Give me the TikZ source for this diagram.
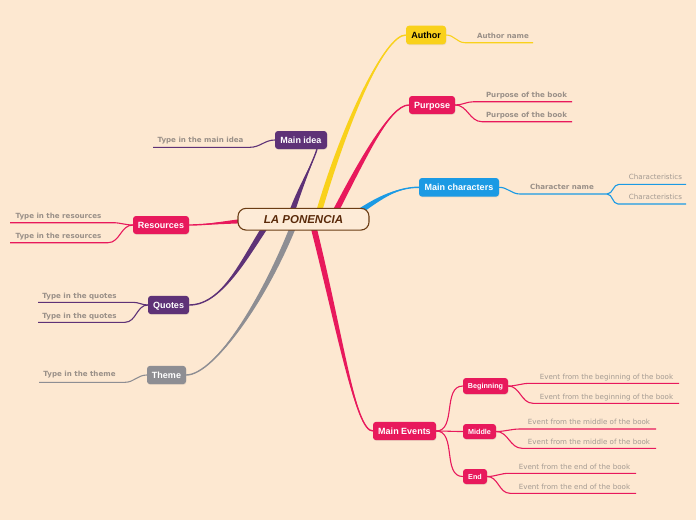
\documentclass[tikz,border=0pt]{standalone}
\usepackage{fontspec}
\setmainfont{Liberation Sans}
\newfontfamily\djv{DejaVu Sans}
\usetikzlibrary{calc,shadows}
\definecolor{bgc}{HTML}{FDE8D1}
\definecolor{crim}{HTML}{E8195C}
\definecolor{yellowc}{HTML}{F9D11B}
\definecolor{bluec}{HTML}{1B9AE4}
\definecolor{purp}{HTML}{5E3277}
\definecolor{grayc}{HTML}{8E8E93}
\definecolor{cbord}{HTML}{6B3C14}
\definecolor{cfill}{HTML}{FDEBD7}
\definecolor{ctext}{HTML}{5A2A0A}
\definecolor{subgray}{HTML}{9A9088}
\definecolor{evgray}{HTML}{A39A92}
\pgfdeclarelayer{back}
\pgfsetlayers{back,main}
\newcommand\mbranch[6]{%
  \fill[#1] ($(#2)+#3$) .. controls ($#4+#3$) and #5 .. (#6) .. controls #5 and ($#4-#3$) .. ($(#2)-#3$) -- cycle;
  \draw[#1, line width=1.4pt] (#2) .. controls #4 and #5 .. (#6);}
\newcommand\sublab[6]{%
  \node[#1] (#2) at #3 {#4};
  \coordinate (#2l) at #5; \coordinate (#2r) at #6;}
\begin{document}
\begin{tikzpicture}[x=1pt,y=-1pt,
  box/.style={rounded corners=3pt, inner sep=0pt, text=white,
    font=\bfseries\fontsize{9}{10}\selectfont, text height=6.5pt, text depth=0pt,
    drop shadow={opacity=0.15,shadow xshift=0.4pt,shadow yshift=-0.8pt}},
  small/.style={font=\bfseries\fontsize{7.2}{8}\selectfont, text height=5.2pt},
  sl/.style={inner sep=0pt, text=subgray, font=\djv\bfseries\fontsize{7.1}{8}\selectfont, text height=5.2pt, text depth=0pt},
  el/.style={inner sep=0pt, text=evgray, font=\djv\fontsize{7.1}{8}\selectfont, text height=5.2pt, text depth=0pt},
  con/.style={line width=1.1pt}]
\useasboundingbox (0,0) rectangle (696,520);

% central node
\node[draw=cbord, line width=1.1pt, fill=cfill, rounded corners=8pt, minimum width=131pt,
  minimum height=21.7pt, inner sep=0pt, font=\bfseries\itshape\fontsize{11.5}{12}\selectfont,
  text=ctext, text height=8.3pt, text depth=0pt] (lp) at (303.5,219.2) {LA PONENCIA};

% main topics
\node[box, fill=yellowc, text=black, minimum width=40pt, minimum height=18.6pt] (author) at (426,35) {Author};
\node[box, fill=crim, minimum width=46pt, minimum height=18pt] (purpose) at (432,105) {Purpose};
\node[box, fill=bluec, minimum width=80pt, minimum height=18.6pt] (mainchar) at (459,187.3) {Main characters};
\node[box, fill=purp, minimum width=52pt, minimum height=18pt] (mainidea) at (301,140) {Main idea};
\node[box, fill=crim, minimum width=56pt, minimum height=18pt] (resources) at (161,225) {Resources};
\node[box, fill=purp, minimum width=41pt, minimum height=18.3pt] (quotes) at (168.5,305) {Quotes};
\node[box, fill=grayc, minimum width=39pt, minimum height=18.3pt] (theme) at (166.5,375) {Theme};
\node[box, fill=crim, minimum width=63pt, minimum height=18.3pt] (mainevents) at (404.5,431) {Main Events};
\node[box, small, fill=crim, minimum width=45pt, minimum height=16pt] (beginning) at (485.5,386) {Beginning};
\node[box, small, fill=crim, minimum width=33pt, minimum height=15pt] (middle) at (479.5,431.5) {Middle};
\node[box, small, fill=crim, minimum width=24pt, minimum height=15pt] (endn) at (475,476.5) {End};

% branch start points (hidden behind the central node)
\coordinate (sAu) at (316,222);
\coordinate (sPu) at (330,222);
\coordinate (sMc) at (345,222);
\coordinate (sMi) at (288,225);
\coordinate (sRe) at (280,219);
\coordinate (sQu) at (274,214);
\coordinate (sTh) at (298,214);
\coordinate (sMe) at (310,213);
\coordinate (eMi) at ($(mainidea.south)+(16,0)$);

\begin{pgfonlayer}{back}
\fill[bgc] (0,0) rectangle (696,520);
\mbranch{yellowc}{sAu}{(3,0)}{(345,120)}{(385,35)}{author.west}
\mbranch{crim}{sPu}{(3,0.6)}{(362,160)}{(390,105)}{purpose.west}
\mbranch{bluec}{sMc}{(1.5,2.6)}{(375,200)}{(395,187.3)}{mainchar.west}
\mbranch{purp}{sMi}{(3,0.5)}{(296,195)}{(312,165)}{eMi}
\mbranch{crim}{sRe}{(0,3)}{(240,220)}{(210,225)}{resources.east}
\mbranch{purp}{sQu}{(2.6,1.5)}{(248,250)}{(225,305)}{quotes.east}
\mbranch{grayc}{sTh}{(3,0.6)}{(268,295)}{(215,375)}{theme.east}
\mbranch{crim}{sMe}{(3,0)}{(340,330)}{(355,431)}{mainevents.west}
\end{pgfonlayer}

% sub labels
\sublab{sl}{an}{(503,35.7)}{Author name}{(465,42.7)}{(533,42.7)}
\sublab{sl}{pa}{(526.5,95)}{Purpose of the book}{(474,101.7)}{(572,101.7)}
\sublab{sl}{pb}{(526.5,115)}{Purpose of the book}{(482,121.7)}{(572,121.7)}
\sublab{sl}{cn}{(562,187.3)}{Character name}{(520,194)}{(607,194)}
\sublab{el}{ca}{(655.5,177.3)}{Characteristics}{(619,184.3)}{(686,184.3)}
\sublab{el}{cb}{(655.5,197.3)}{Characteristics}{(618,204)}{(686,204)}
\sublab{sl}{mi}{(200.5,140.3)}{Type in the main idea}{(153,147.3)}{(250,147.3)}
\sublab{sl}{ra}{(58.5,215.7)}{Type in the resources}{(10,222.7)}{(113,222.7)}
\sublab{sl}{rb}{(58.5,235.7)}{Type in the resources}{(10,242.7)}{(108,242.7)}
\sublab{sl}{qa}{(79.5,295.7)}{Type in the quotes}{(38,302.3)}{(133,302.3)}
\sublab{sl}{qb}{(79.5,315.7)}{Type in the quotes}{(38,322.3)}{(125,322.3)}
\sublab{sl}{ta}{(79.5,374.3)}{Type in the theme}{(39,382.3)}{(125,382.3)}
\sublab{el}{ba}{(606.5,376.7)}{Event from the beginning of the book}{(530,383.3)}{(679,383.3)}
\sublab{el}{bb}{(606.5,396.7)}{Event from the beginning of the book}{(533,403.3)}{(679,403.3)}
\sublab{el}{ma}{(589,421.7)}{Event from the middle of the book}{(520,429)}{(656,429)}
\sublab{el}{mb}{(589,441.7)}{Event from the middle of the book}{(522,448.3)}{(656,448.3)}
\sublab{el}{ea}{(574.5,466.7)}{Event from the end of the book}{(509,473.3)}{(636,473.3)}
\sublab{el}{eb}{(574.5,486.7)}{Event from the end of the book}{(510,493.3)}{(636,493.3)}

% connectors + underlines
\draw[con, yellowc] (author.east) to[out=0,in=180] (anl) -- (anr);
\draw[con, crim] (purpose.east) to[out=0,in=180] (pal) -- (par);
\draw[con, crim] (purpose.east) to[out=0,in=180] (pbl) -- (pbr);
\draw[con, bluec] (mainchar.east) to[out=0,in=180] (cnl) -- (cnr);
\draw[con, bluec] (cnr) to[out=0,in=180] (cal) -- (car);
\draw[con, bluec] (cnr) to[out=0,in=180] (cbl) -- (cbr);
\draw[con, purp] (mainidea.west) to[out=180,in=0] (mir) -- (mil);
\draw[con, crim] (resources.west) to[out=180,in=0] (rar) -- (ral);
\draw[con, crim] (resources.west) to[out=180,in=0] (rbr) -- (rbl);
\draw[con, purp] (quotes.west) to[out=180,in=0] (qar) -- (qal);
\draw[con, purp] (quotes.west) to[out=180,in=0] (qbr) -- (qbl);
\draw[con, grayc] (theme.west) to[out=180,in=0] (tar) -- (tal);
\draw[con, crim] (mainevents.east) to[out=0,in=180] (beginning.west);
\draw[con, crim] (mainevents.east) to[out=0,in=180] (middle.west);
\draw[con, crim] (mainevents.east) to[out=0,in=180] (endn.west);
\draw[con, crim] (beginning.east) to[out=0,in=180] (bal) -- (bar);
\draw[con, crim] (beginning.east) to[out=0,in=180] (bbl) -- (bbr);
\draw[con, crim] (middle.east) to[out=0,in=180] (mal) -- (mar);
\draw[con, crim] (middle.east) to[out=0,in=180] (mbl) -- (mbr);
\draw[con, crim] (endn.east) to[out=0,in=180] (eal) -- (ear);
\draw[con, crim] (endn.east) to[out=0,in=180] (ebl) -- (ebr);
\end{tikzpicture}
\end{document}
